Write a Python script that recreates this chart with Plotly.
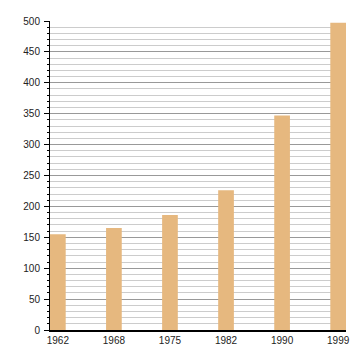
import plotly.graph_objects as go

years = ["1962", "1968", "1975", "1982", "1990", "1999"]
values = [155, 165, 186, 226, 347, 497]

fig = go.Figure(go.Bar(x=years, y=values, marker=dict(color="#E6B87F", line=dict(width=0)), width=0.28))

fig.update_layout(
    width=360, height=360,
    margin=dict(l=50, r=10, t=21, b=30),
    paper_bgcolor="white", plot_bgcolor="white",
    font=dict(family="Liberation Sans, Arial, sans-serif", size=10, color="#222"),
    showlegend=False,
)
fig.update_xaxes(
    type="category", range=[-0.14, 5.14],
    showline=True, linecolor="black", linewidth=1.5,
    ticks="", showgrid=False, tickfont=dict(size=10),
)
fig.update_yaxes(
    range=[0, 500], dtick=50, tick0=0,
    showline=True, linecolor="black", linewidth=1,
    ticks="outside", ticklen=5, tickcolor="black", tickwidth=1,
    showgrid=True, gridcolor="#999", gridwidth=1,
    zeroline=False,
    minor=dict(dtick=10, showgrid=True, gridcolor="#ccc", gridwidth=1,
               ticks="outside", ticklen=2, tickcolor="black"),
    tickfont=dict(size=10),
    ticklabelstandoff=2,
)
fig.write_html("out.html")
